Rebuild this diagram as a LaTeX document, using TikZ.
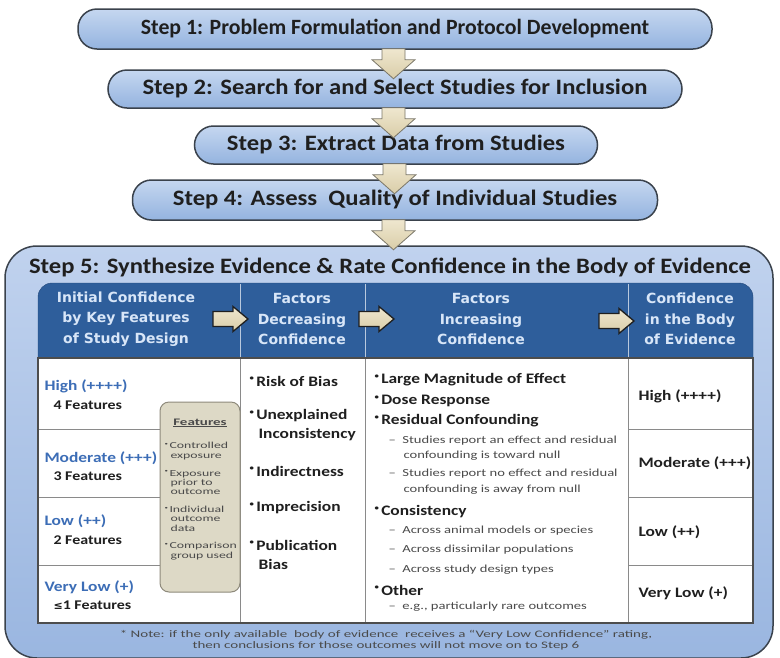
\documentclass[tikz,border=0pt]{standalone}
\usepackage{fontspec}
\setmainfont{Carlito}
\newfontfamily\hdrfont{DejaVu Sans}
\newfontfamily\symfont{DejaVu Sans}
\newfontfamily\stepfont{Carlito}[FakeStretch=1.12]
\newfontfamily\bodyfont{Carlito}[FakeStretch=1.2]
\newfontfamily\subfont{Carlito}[FakeStretch=1.35]
\newfontfamily\tinyfont{Carlito}[FakeStretch=1.5]
\usetikzlibrary{calc}

\definecolor{steptop}{HTML}{C5D7F0}
\definecolor{stepbot}{HTML}{94B3DF}
\definecolor{stepline}{HTML}{3A424C}
\definecolor{bigtop}{HTML}{C0D2EE}
\definecolor{bigbot}{HTML}{9AB6E0}
\definecolor{hdrblue}{HTML}{2E5E9B}
\definecolor{hdrdark}{HTML}{24487A}
\definecolor{hdrlight}{HTML}{D8E6F8}
\definecolor{hdrline}{HTML}{B9C9DE}
\definecolor{tantop}{HTML}{EFE7CF}
\definecolor{tanbot}{HTML}{D9CDA8}
\definecolor{tanline}{HTML}{7A7668}
\definecolor{lvlblue}{HTML}{3C6DB6}
\definecolor{ink}{HTML}{1F1F1F}
\definecolor{subink}{HTML}{4A4A4A}
\definecolor{gridgray}{HTML}{8A8A8A}
\definecolor{tabline}{HTML}{4D4D4D}
\definecolor{featfill}{HTML}{DDD9C6}
\definecolor{featline}{HTML}{8E8A7C}

\newcommand{\fs}[2]{\fontsize{#1}{#2}\selectfont}
\newcommand{\bul}{\raisebox{0.35em}{\scalebox{0.5}{•}}\,}

\begin{document}
\begin{tikzpicture}[x=1pt, y=-1pt,
    stepbox/.style={draw=stepline, line width=1.5pt, rounded corners=19pt,
      top color=steptop, bottom color=stepbot, text=ink, inner sep=0pt,
      font=\stepfont\fs{22}{24}\bfseries},
    bigbox/.style={draw=stepline, line width=1.5pt, rounded corners=32pt,
      top color=bigtop, bottom color=bigbot, inner sep=0pt},
    downarrow/.style={draw=tanline, line width=0.8pt, top color=tantop, bottom color=tanbot},
    hdrarrow/.style={draw=ink, line width=1.3pt, top color=tantop, bottom color=tanbot},
    featbox/.style={draw=featline, fill=featfill, line width=1pt, rounded corners=9pt},
    hdrtext/.style={align=center, text=hdrlight, font=\hdrfont\fs{14}{20.5}\bfseries},
    lvl/.style={anchor=west, text=lvlblue, font=\bodyfont\fs{14.5}{17}\bfseries},
    nfeat/.style={anchor=west, text=ink, font=\bodyfont\fs{13.3}{14}\bfseries},
    factor/.style={anchor=west, text=ink, font=\bodyfont\fs{14.5}{17}\bfseries},
    subfactor/.style={anchor=west, text=subink, font=\subfont\fs{10.8}{13}},
    rating/.style={anchor=west, text=ink, font=\bodyfont\fs{14.5}{17}\bfseries},
    feattext/.style={anchor=north west, align=left, text=subink, font=\tinyfont\fs{9.2}{9.3}},
    notetext/.style={text=subink, font=\tinyfont\fs{10}{11.5}, align=center}]
  \useasboundingbox (0,0) rectangle (780,657);

  % steps 1-4
  \node[stepbox, minimum width=634, minimum height=40, font=\fs{21.8}{24}\bfseries] (s1) at (395,29)
    {Step 1: Problem Formulation and Protocol Development};
  \node[stepbox, minimum width=574, minimum height=38] (s2) at (395,89)
    {Step 2: Search for and Select Studies for Inclusion};
  \node[stepbox, minimum width=403, minimum height=38] (s3) at (396,145)
    {Step 3: Extract Data from Studies};
  \node[stepbox, minimum width=525, minimum height=40] (s4) at (395,200)
    {Step 4: Assess\ \ Quality of Individual Studies};

  % step 5
  \node[bigbox, minimum width=768, minimum height=412] (s5) at (389,452) {};
  \node[text=ink, font=\stepfont\fs{22}{24}\bfseries] (t5) at (390,267)
    {Step 5: Synthesize Evidence \& Rate Confidence in the Body of Evidence};

  \foreach \a in {s1,s2,s3,s4}
    \draw[downarrow] ($(\a.south)+(-13,-1)$) -- ++(23,0) -- ++(0,11) -- ++(10,0)
      -- ++(-21.5,19) -- ++(-21.5,-19) -- ++(10,0) -- cycle;

  % table
  \fill[hdrblue, draw=hdrdark, rounded corners=14pt] (38,283) rectangle (753,375);
  \fill[white] (38,358) rectangle (753,623);
  \foreach \x in {240,365,628} {
    \draw[hdrline] (\x,284) -- (\x,358);
    \draw[gridgray] (\x,358) -- (\x,623);
  }
  \foreach \y in {429,497,565} {
    \draw[gridgray] (38,\y) -- (240,\y);
    \draw[gridgray] (628,\y) -- (753,\y);
  }
  \draw[tabline, line width=1.2pt] (38,358) rectangle (753,623);

  \node[hdrtext] (h1) at (126,319) {Initial Confidence\\by Key Features\\of Study Design};
  \node[hdrtext] (h2) at (302,319) {Factors\\Decreasing\\Confidence};
  \node[hdrtext] (h3) at (481,319) {Factors\\Increasing\\Confidence};
  \node[hdrtext] (h4) at (690,319) {Confidence\\in the Body\\of Evidence};
  \foreach \x/\y in {213/319, 359/319, 599/321}
    \draw[hdrarrow] (\x,\y-7.5) -- ++(20,0) -- ++(0,-5) -- ++(15,12.5) -- ++(-15,12.5)
      -- ++(0,-5) -- ++(-20,0) -- cycle;

  % initial confidence
  \node[lvl] (l1) at (41,386) {High (++++)};
  \node[nfeat] (n1) at (50,405) {4 Features};
  \node[lvl] (l2) at (41,458) {Moderate (+++)};
  \node[nfeat] (n2) at (50,476) {3 Features};
  \node[lvl] (l3) at (41,521) {Low (++)};
  \node[nfeat] (n3) at (50,540) {2 Features};
  \node[lvl] (l4) at (41,587) {Very Low (+)};
  \node[nfeat] (n4) at (50,605) {{\symfont\fs{11}{12}≤}1 Features};

  \node[featbox, minimum width=80, minimum height=190] (feat) at (200,497) {};
  \node[text=subink, font=\tinyfont\fs{10}{11}\bfseries] (feathead) at (200,423) {\underline{Features}};
  \node[feattext, text width=76] (featlist) at (161,439) {\bul Controlled\\\hspace*{6pt}exposure\\[8.5pt]
    \bul Exposure\\\hspace*{6pt}prior to\\\hspace*{6pt}outcome\\[8.5pt]
    \bul Individual\\\hspace*{6pt}outcome\\\hspace*{6pt}data\\[8.5pt]
    \bul Comparison\\\hspace*{6pt}group used};

  % factors decreasing
  \node[factor] (d1) at (246,381) {\bul Risk of Bias};
  \node[factor] (d2) at (246,416) {\bul Unexplained};
  \node[factor] (d2b) at (255,435) {Inconsistency};
  \node[factor] (d3) at (246,471) {\bul Indirectness};
  \node[factor] (d4) at (246,508) {\bul Imprecision};
  \node[factor] (d5) at (246,545) {\bul Publication};
  \node[factor] (d5b) at (255,564) {Bias};

  % factors increasing
  \node[factor] (i1) at (371,380) {\bul Large Magnitude of Effect};
  \node[factor] (i2) at (371,401) {\bul Dose Response};
  \node[factor] (i3) at (371,421) {\bul Residual Confounding};
  \node[subfactor] (i3a) at (385,441) {–\ \ Studies report an effect and residual};
  \node[subfactor] (i3b) at (400,456) {confounding is toward null};
  \node[subfactor] (i3c) at (385,474) {–\ \ Studies report no effect and residual};
  \node[subfactor] (i3d) at (400,490) {confounding is away from null};
  \node[factor] (i4) at (371,512) {\bul Consistency};
  \node[subfactor] (i4a) at (385,531) {–\ \ Across animal models or species};
  \node[subfactor] (i4b) at (385,550) {–\ \ Across dissimilar populations};
  \node[subfactor] (i4c) at (385,570) {–\ \ Across study design types};
  \node[factor] (i5) at (371,590) {\bul Other};
  \node[subfactor] (i5a) at (385,607) {–\ \ e.g., particularly rare outcomes};

  % confidence in the body of evidence
  \node[rating] (r1) at (635,396) {High (++++)};
  \node[rating] (r2) at (635,463) {Moderate (+++)};
  \node[rating] (r3) at (635,532) {Low (++)};
  \node[rating] (r4) at (635,593) {Very Low (+)};

  \node[notetext] (note) at (386,640) {* Note: if the only available\ \ body of evidence\ \ receives a “Very Low Confidence” rating,\\then conclusions for those outcomes will not move on to Step 6};
\end{tikzpicture}
\end{document}
